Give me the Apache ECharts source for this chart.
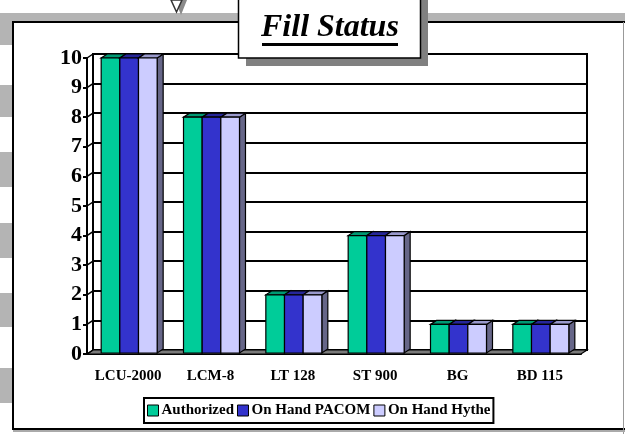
<!DOCTYPE html>
<html>
<head>
<meta charset="utf-8">
<script src="https://cdn.jsdelivr.net/npm/echarts@6/dist/echarts.min.js"></script>
<style>
  html, body { margin: 0; padding: 0; background: #fff; }
  #chart { width: 625px; height: 434px; }
</style>
</head>
<body>
<div id="chart"></div>
<script>
// values
var categories = ['LCU-2000', 'LCM-8', 'LT 128', 'ST 900', 'BG', 'BD 115'];
var authorized = [10, 8, 2, 4, 1, 1];
var onHandPacom = [10, 8, 2, 4, 1, 1];
var onHandHythe = [10, 8, 2, 4, 1, 1];
var yTicks = [0, 1, 2, 3, 4, 5, 6, 7, 8, 9, 10];

var serif = "'Liberation Serif', 'Times New Roman', serif";
var DX = 6, DY = 4;

var barStyles = [
    { name: 'Authorized', front: '#00cc99', top: '#009973', side: '#00664d' },
    { name: 'On Hand PACOM', front: '#3333cc', top: '#262699', side: '#1a1a66' },
    { name: 'On Hand Hythe', front: '#ccccff', top: '#9999cc', side: '#666688' }
];
var seriesValues = [authorized, onHandPacom, onHandHythe];

function barSeries(k) {
    var st = barStyles[k];
    return {
        type: 'custom',
        name: st.name,
        xAxisIndex: 0, yAxisIndex: 0,
        z: 3,
        itemStyle: { color: st.front },
        encode: { x: 0, y: 1 },
        data: seriesValues[k].map(function (v, i) { return [i, v]; }),
        renderItem: function (params, api) {
            var idx = api.value(0), v = api.value(1);
            var catW = api.size([1, 0])[0];
            var bw = catW * 0.68 / 3;
            var c = api.coord([idx, v]);
            var b = api.coord([idx, 0]);
            var x = c[0] - 1.5 * bw + k * bw + 1;
            var top = c[1], base = b[1] - 1;
            var line = { stroke: '#000', lineWidth: 1.2 };
            return {
                type: 'group',
                children: [
                    { type: 'polygon', shape: { points: [[x + bw, top], [x + bw + DX, top - DY], [x + bw + DX, base - DY], [x + bw, base]] },
                      style: Object.assign({ fill: st.side }, line) },
                    { type: 'polygon', shape: { points: [[x, top], [x + bw, top], [x + bw + DX, top - DY], [x + DX, top - DY]] },
                      style: Object.assign({ fill: st.top }, line) },
                    { type: 'rect', shape: { x: x, y: top, width: bw, height: base - top },
                      style: Object.assign({ fill: st.front }, line) }
                ]
            };
        }
    };
}

var chart = echarts.init(document.getElementById('chart'), null, { renderer: 'canvas' });

var bgGray = '#b4b4b4';
var leftBlocks = [[22, 45], [85, 117], [152, 187], [223, 258], [293, 327], [368, 403]];
var graphics = [
    { type: 'rect', z: -10, shape: { x: 0, y: 13, width: 625, height: 9 }, style: { fill: bgGray } },
    { type: 'rect', z: -9, shape: { x: 13, y: 22, width: 620, height: 407 }, style: { fill: '#fff', stroke: '#000', lineWidth: 2 } },
    { type: 'line', z: -8, shape: { x1: 623.5, y1: 22, x2: 623.5, y2: 434 }, style: { stroke: '#999', lineWidth: 1 } },
    { type: 'line', z: -8, shape: { x1: 13, y1: 431, x2: 625, y2: 431 }, style: { stroke: '#aaa', lineWidth: 2 } },
    // small pointer at the top
    { type: 'polygon', z: 50, shape: { points: [[175, 0], [187, 0], [181, 15]] }, style: { fill: '#8a8a8a' } },
    { type: 'polygon', z: 51, shape: { points: [[171, 0], [182, 0], [176.5, 12]] }, style: { fill: '#fff', stroke: '#333', lineWidth: 1.5 } },
    // title box
    { type: 'rect', z: 50, shape: { x: 246, y: 0, width: 182, height: 66 }, style: { fill: '#808080' } },
    { type: 'rect', z: 51, shape: { x: 238.5, y: -2, width: 182, height: 60 }, style: { fill: '#fff', stroke: '#000', lineWidth: 1.5 } },
    { type: 'text', z: 52, left: 261, top: 12, style: { text: 'Fill Status', fill: '#000', font: 'italic bold 32px ' + serif } },
    { type: 'rect', z: 52, shape: { x: 262, y: 43, width: 136, height: 3 }, style: { fill: '#000' } }
];
leftBlocks.forEach(function (b) {
    graphics.push({ type: 'rect', z: -10, shape: { x: 0, y: b[0], width: 13, height: b[1] - b[0] }, style: { fill: bgGray } });
});

chart.setOption({
    animation: false,
    backgroundColor: '#fff',
    graphic: graphics,
    legend: {
        left: 144, top: 398,
        padding: [5, 3, 5, 3],
        borderColor: '#000', borderWidth: 2,
        backgroundColor: '#fff',
        itemWidth: 11, itemHeight: 11, itemGap: 3,
        icon: 'rect',
        itemStyle: { borderColor: '#000', borderWidth: 1 },
        textStyle: { fontFamily: serif, fontWeight: 'bold', fontSize: 15, color: '#000', padding: [0, 0, 0, -2] },
        data: barStyles.map(function (s) { return s.name; })
    },
    grid: [
        { left: 87, right: 44, top: 58, bottom: 80 },
        { left: 93, right: 38, top: 54, bottom: 84, show: true, borderColor: '#000', borderWidth: 2, backgroundColor: 'transparent' }
    ],
    xAxis: [
        { type: 'category', gridIndex: 0, data: categories,
          axisLine: { lineStyle: { color: '#000', width: 2 } },
          axisTick: { length: 4, lineStyle: { color: '#000', width: 2 } },
          axisLabel: { interval: 0, margin: 15, color: '#000', fontFamily: serif, fontWeight: 'bold', fontSize: 15 },
          splitLine: { show: false } },
        { type: 'category', gridIndex: 1, data: categories, show: false }
    ],
    yAxis: [
        { type: 'value', gridIndex: 0, min: 0, max: 10, interval: 1,
          axisLine: { show: true, lineStyle: { color: '#000', width: 2 } },
          axisTick: { show: true, length: 4, lineStyle: { color: '#000', width: 2 } },
          axisLabel: { margin: 5, color: '#000', fontFamily: serif, fontWeight: 'bold', fontSize: 22 },
          splitLine: { show: false } },
        { type: 'value', gridIndex: 1, min: 0, max: 10, interval: 1,
          axisLine: { show: true, lineStyle: { color: '#000', width: 2 } },
          axisTick: { show: false }, axisLabel: { show: false },
          splitLine: { show: true, lineStyle: { color: '#000', width: 2 } } }
    ],
    series: [
        {   // floor of the 3D box
            type: 'custom', xAxisIndex: 0, yAxisIndex: 0, z: 1, silent: true,
            data: [[0, 0]], encode: { x: 0, y: 1 },
            renderItem: function (params, api) {
                var w = api.size([1, 0])[0];
                var p = api.coord([0, 0]);
                var x0 = p[0] - w / 2, x1 = x0 + w * categories.length, y = p[1];
                return { type: 'polygon',
                         shape: { points: [[x0, y], [x1, y], [x1 + DX, y - DY], [x0 + DX, y - DY]] },
                         style: { fill: '#7a7a7a', stroke: '#000', lineWidth: 1.2 } };
            }
        },
        {   // slanted lines on the side wall
            type: 'custom', xAxisIndex: 0, yAxisIndex: 0, z: 1, silent: true,
            data: yTicks.map(function (v) { return [0, v]; }), encode: { x: 0, y: 1 },
            renderItem: function (params, api) {
                var w = api.size([1, 0])[0];
                var p = api.coord([0, api.value(1)]);
                var x0 = p[0] - w / 2;
                return { type: 'line', shape: { x1: x0, y1: p[1], x2: x0 + DX, y2: p[1] - DY },
                         style: { stroke: '#000', lineWidth: 1.5 } };
            }
        },
        barSeries(0), barSeries(1), barSeries(2)
    ]
});
</script>
</body>
</html>
